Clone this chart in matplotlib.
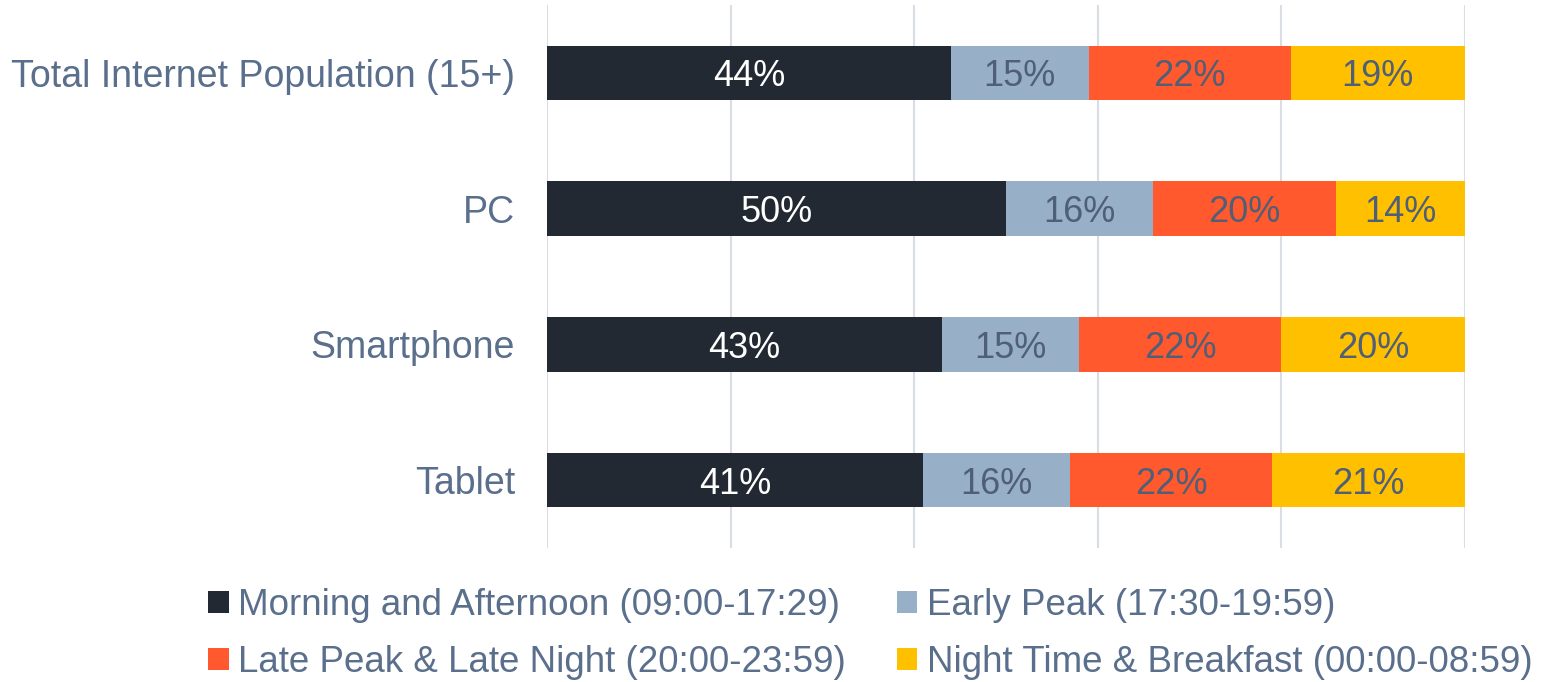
import numpy as np
import matplotlib.pyplot as plt

plt.rcParams['font.family'] = ['Liberation Sans', 'DejaVu Sans']

categories = ['Total Internet Population (15+)', 'PC', 'Smartphone', 'Tablet']
series = ['Morning and Afternoon (09:00-17:29)', 'Early Peak (17:30-19:59)',
          'Late Peak & Late Night (20:00-23:59)', 'Night Time & Breakfast (00:00-08:59)']
morning = [44, 50, 43, 41]
early = [15, 16, 15, 16]
late = [22, 20, 22, 22]
night = [19, 14, 20, 21]

colors = ['#222933', '#97AFC7', '#FF592D', '#FFC000']
label_colors = ['white', '#4F5F78', '#4F5F78', '#4F5F78']
text_col = '#5A6F8C'

fig = plt.figure(figsize=(15.47, 6.82), dpi=100)
ax = fig.add_axes([547 / 1547, 1 - 548 / 682, 918 / 1547, 543 / 682])

y = np.arange(len(categories))
left = np.zeros(len(categories))
handles = []
for vals, name, c, lc in zip([morning, early, late, night], series, colors, label_colors):
    vals = np.array(vals)
    bars = ax.barh(y, vals, left=left, height=0.4, color=c, label=name, zorder=3)
    txts = ax.bar_label(bars, labels=[f'{v}%' for v in vals], label_type='center',
                        color=lc, fontsize=26)
    for t in txts:
        t.set_va('center_baseline')
    handles.append(bars)
    left += vals

ax.set_xlim(0, 100)
ax.set_ylim(len(categories) - 0.5, -0.5)
ax.set_xticks(np.arange(0, 101, 20))
ax.xaxis.grid(True, color='#D9DDE4', linewidth=1.5, zorder=0)
ax.set_xticklabels([])
ax.tick_params(axis='x', length=0)
ax.tick_params(axis='y', length=0, pad=23, labelsize=27, labelcolor=text_col)
ax.set_yticks(y)
ax.set_yticklabels(categories, va='center_baseline')
for s in ax.spines.values():
    s.set_visible(False)

# legend filled row by row: reorder for column-major layout
order = [0, 2, 1, 3]
leg = fig.legend([handles[i] for i in order], [series[i] for i in order],
                 loc='upper left', bbox_to_anchor=(190 / 1547, 1 - 570 / 682), ncol=2,
                 frameon=False, fontsize=26.5, handlelength=0.55, handleheight=0.55,
                 handletextpad=0.25, columnspacing=1.4, labelspacing=0.58, borderpad=0)
for t in leg.get_texts():
    t.set_color(text_col)

fig.savefig('out.png', dpi=100)
